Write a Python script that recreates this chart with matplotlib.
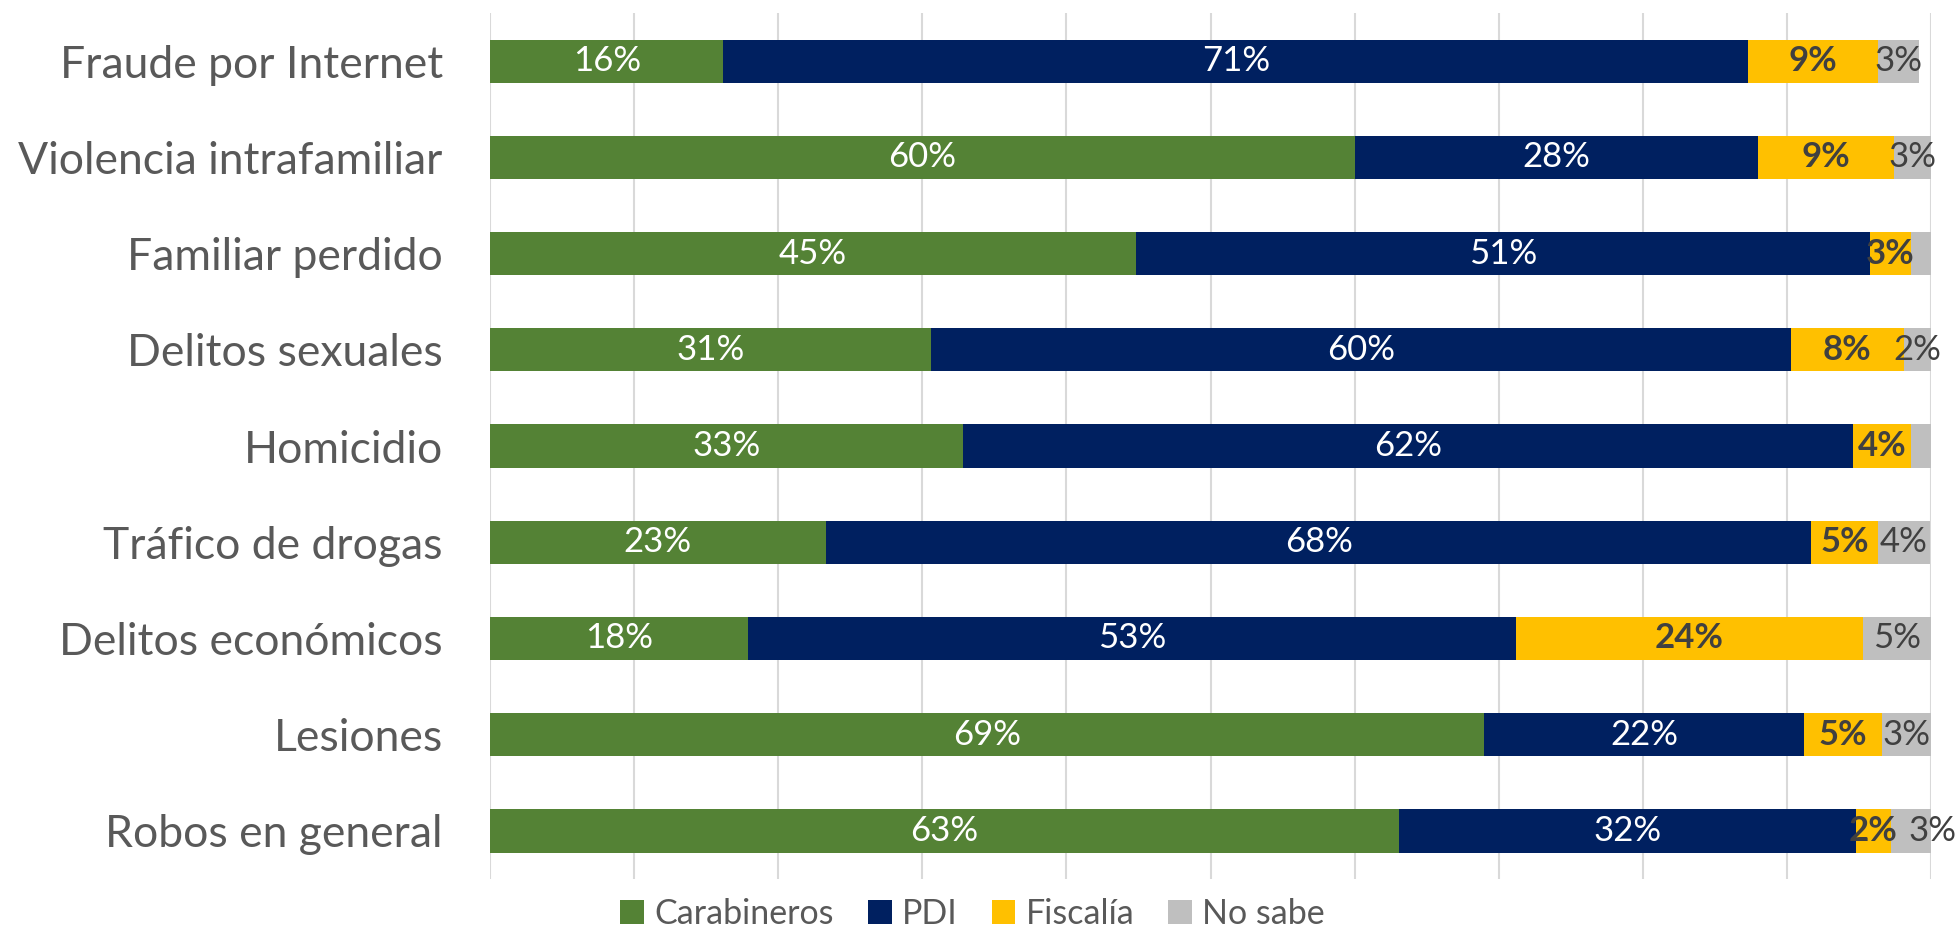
import matplotlib.pyplot as plt
from matplotlib.patches import Patch

plt.rcParams['font.family'] = ['Lato', 'DejaVu Sans']

categories = ["Fraude por Internet", "Violencia intrafamiliar", "Familiar perdido",
              "Delitos sexuales", "Homicidio", "Tráfico de drogas",
              "Delitos económicos", "Lesiones", "Robos en general"]
carabineros = [16.2, 60.0, 44.8, 30.6, 32.8, 23.3, 17.9, 69.0, 63.1]
pdi = [71.1, 28.0, 51.0, 59.7, 61.8, 68.4, 53.3, 22.2, 31.7]
fiscalia = [9.0, 9.4, 2.8, 7.8, 4.0, 4.6, 24.1, 5.4, 2.4]
no_sabe = [2.9, 2.6, 1.4, 1.9, 1.4, 3.6, 4.7, 3.4, 2.8]

series = [("Carabineros", carabineros, "#548235", "white", "normal"),
          ("PDI", pdi, "#002060", "white", "normal"),
          ("Fiscalía", fiscalia, "#FFC000", "#404040", "bold"),
          ("No sabe", no_sabe, "#BFBFBF", "#404040", "normal")]

fig = plt.figure(figsize=(19.57, 9.31), dpi=100)
ax = fig.add_axes([0.2504, 0.0559, 0.7363, 0.930])

y = list(range(len(categories)))
left = [0.0] * len(categories)
for name, vals, color, tcolor, weight in series:
    ax.barh(y, vals, left=left, height=0.45, color=color, label=name, zorder=3)
    for i, v in enumerate(vals):
        if v >= 1.5:
            x = left[i] + v / 2
            if name == "No sabe" and categories[i] == "Robos en general":
                x += 1.5  # label nudged right in the original
            ax.text(x, i, f"{v:.0f}%", ha="center", va="center",
                    color=tcolor, fontsize=25, fontweight=weight, zorder=4)
    left = [l + v for l, v in zip(left, vals)]

ax.set_xlim(0, 100)
ax.set_ylim(len(categories) - 0.5, -0.5)
ax.set_xticks(range(0, 101, 10))
ax.set_xticklabels([])
ax.set_yticks(y)
ax.set_yticklabels(categories, fontsize=32, color="#595959")
ax.tick_params(axis="both", length=0)
ax.tick_params(axis="y", pad=34)
ax.grid(True, axis="x", color="#D9D9D9", linewidth=1.5, zorder=0)
for s in ax.spines.values():
    s.set_visible(False)

handles = [Patch(facecolor=c, label=n) for n, _, c, _, _ in series]
fig.legend(handles=handles, loc="center", bbox_to_anchor=(0.497, 0.018), ncol=4,
           frameon=False, fontsize=24.5, labelcolor="#595959", handlelength=0.7,
           handleheight=0.7, handletextpad=0.3, columnspacing=1.0)

fig.savefig("out.png", dpi=100)
